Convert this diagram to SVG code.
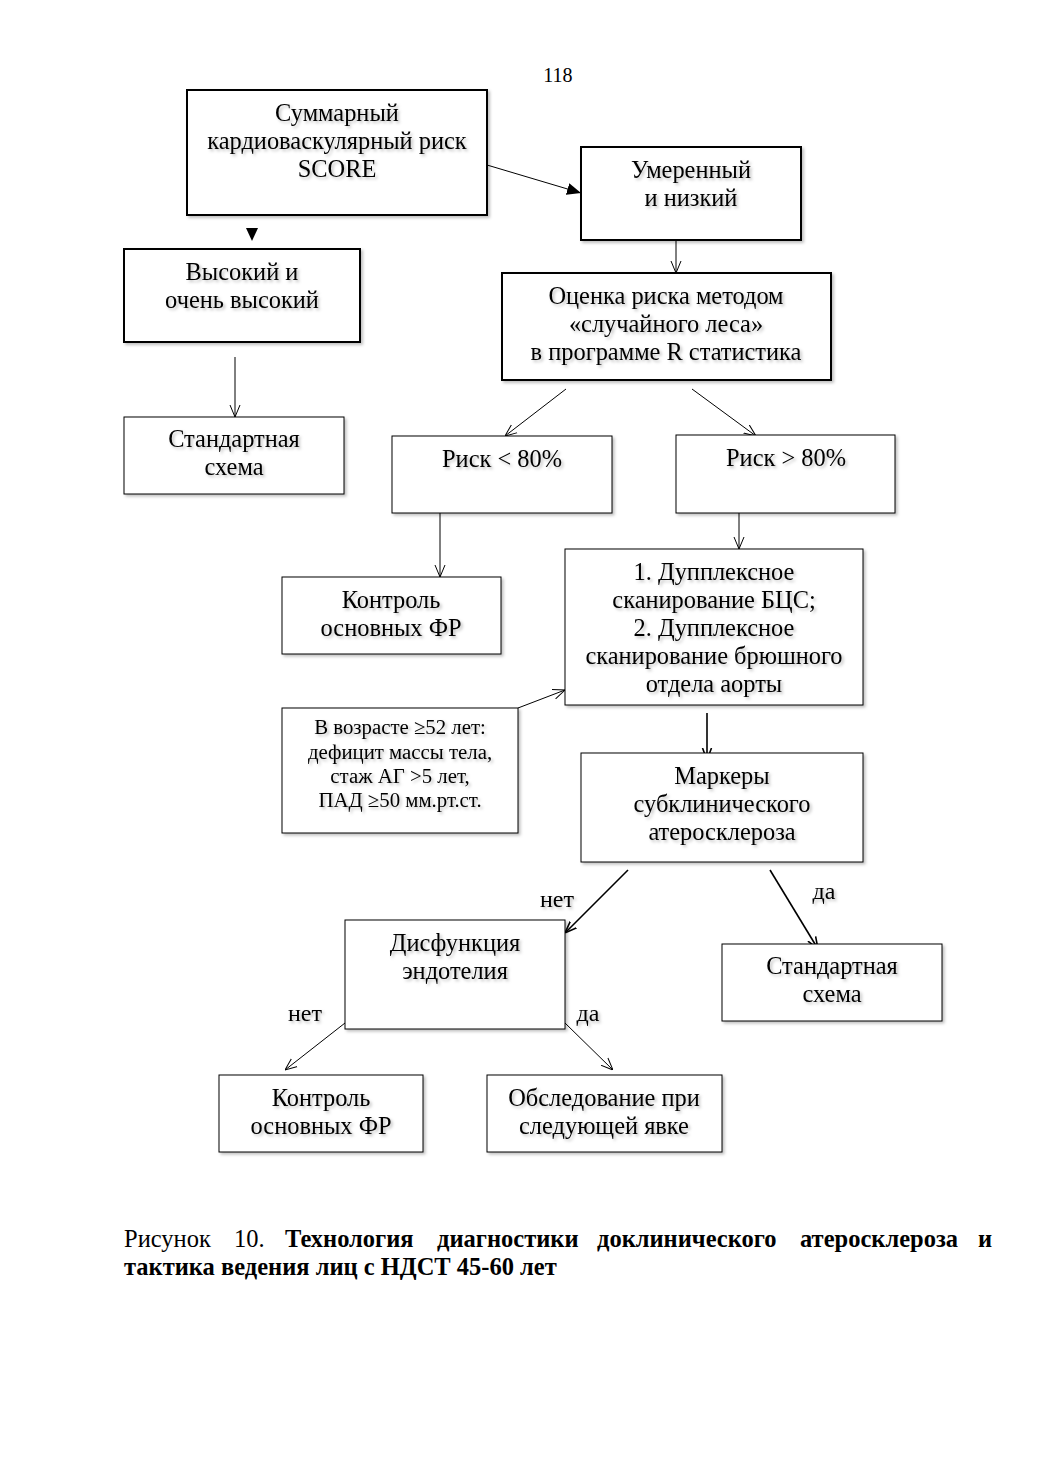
<svg xmlns="http://www.w3.org/2000/svg" width="1040" height="1473" viewBox="0 0 1040 1473">
<defs>
<filter id="sh" x="-10%" y="-10%" width="130%" height="140%">
<feDropShadow dx="2" dy="2" stdDeviation="1.5" flood-color="#000" flood-opacity="0.25"/>
</filter>
<marker id="open" viewBox="0 0 12 12" refX="12" refY="6" markerWidth="12" markerHeight="12" markerUnits="userSpaceOnUse" orient="auto">
<path d="M0,1 L12,6 L0,11" fill="none" stroke="#000" stroke-width="1"/>
</marker>
<marker id="openb" viewBox="0 0 12 12" refX="12" refY="6" markerWidth="12" markerHeight="12" markerUnits="userSpaceOnUse" orient="auto">
<path d="M0,1.5 L12,6 L0,10.5" fill="none" stroke="#000" stroke-width="1.6"/>
</marker>
<marker id="fill" viewBox="0 0 14 12" refX="14" refY="6" markerWidth="14" markerHeight="12" markerUnits="userSpaceOnUse" orient="auto">
<path d="M0,0 L14,6 L0,12 Z" fill="#000"/>
</marker>
</defs>
<style>
text{font-family:"Liberation Serif","Times New Roman",serif;fill:#000}
.t{font-size:24.4px;text-anchor:middle}
.s{font-size:20.8px;text-anchor:middle}
.l{font-size:24px;text-anchor:middle}
.c{font-size:24.5px}
.b{font-weight:bold}
.box{fill:#fff;stroke:#000;stroke-width:1;filter:url(#sh)}
.bx{fill:#fff;stroke:#000;stroke-width:2;filter:url(#sh)}
.ln{stroke:#000;stroke-width:1;fill:none}
.lb{stroke:#000;stroke-width:1.6;fill:none}
.tx{filter:url(#sh)}
</style>
<rect width="1040" height="1473" fill="#fff"/>
<text x="558" y="82" style="font-size:20px;text-anchor:middle">118</text>

<g id="connectors">
<line class="ln" x1="487" y1="165" x2="581" y2="193" marker-end="url(#fill)"/>
<path d="M246,228 L258,228 L252,241 Z" fill="#000"/>
<line class="ln" x1="676" y1="240" x2="676" y2="273" marker-end="url(#open)"/>
<line class="ln" x1="235" y1="357" x2="235" y2="417" marker-end="url(#open)"/>
<line class="ln" x1="566" y1="389" x2="505" y2="436" marker-end="url(#open)"/>
<line class="ln" x1="692" y1="389" x2="756" y2="436" marker-end="url(#open)"/>
<line class="ln" x1="440" y1="513" x2="440" y2="577" marker-end="url(#open)"/>
<line class="ln" x1="739" y1="513" x2="739" y2="549" marker-end="url(#open)"/>
<line class="ln" x1="518" y1="708" x2="565" y2="690" marker-end="url(#open)"/>
<line class="lb" x1="707" y1="713" x2="707" y2="760" marker-end="url(#openb)"/>
<line class="lb" x1="628" y1="870" x2="565" y2="933" marker-end="url(#openb)"/>
<line class="lb" x1="770" y1="870" x2="818" y2="949" marker-end="url(#openb)"/>
<line class="ln" x1="345" y1="1023" x2="285" y2="1070" marker-end="url(#open)"/>
<line class="ln" x1="565" y1="1023" x2="613" y2="1070" marker-end="url(#open)"/>
<g class="tx">
<text class="l" x="557" y="907">нет</text>
<text class="l" x="824" y="899">да</text>
<text class="l" x="305" y="1021">нет</text>
<text class="l" x="588" y="1021">да</text>
</g>
</g>

<g id="n-score"><rect class="bx" x="187" y="90" width="300" height="125"/>
<g class="tx"><text class="t" x="337" y="121">Суммарный</text><text class="t" x="337" y="149">кардиоваскулярный риск</text><text class="t" x="337" y="177">SCORE</text></g></g>

<g id="n-moderate"><rect class="bx" x="581" y="147" width="220" height="93"/>
<g class="tx"><text class="t" x="691" y="178">Умеренный</text><text class="t" x="691" y="206">и низкий</text></g></g>

<g id="n-high"><rect class="bx" x="124" y="249" width="236" height="93"/>
<g class="tx"><text class="t" x="242" y="280">Высокий и</text><text class="t" x="242" y="308">очень высокий</text></g></g>

<g id="n-forest"><rect class="bx" x="502" y="273" width="329" height="107"/>
<g class="tx"><text class="t" x="666" y="304">Оценка риска методом</text><text class="t" x="666" y="332">«случайного леса»</text><text class="t" x="666" y="360">в программе R статистика</text></g></g>

<g id="n-std1"><rect class="box" x="124" y="417" width="220" height="77"/>
<g class="tx"><text class="t" x="234" y="447">Стандартная</text><text class="t" x="234" y="475">схема</text></g></g>

<g id="n-risk-lo"><rect class="box" x="392" y="436" width="220" height="77"/>
<g class="tx"><text class="t" x="502" y="467">Риск &lt; 80%</text></g></g>

<g id="n-risk-hi"><rect class="box" x="676" y="435" width="219" height="78"/>
<g class="tx"><text class="t" x="786" y="466">Риск &gt; 80%</text></g></g>

<g id="n-ctrl1"><rect class="box" x="282" y="577" width="219" height="77"/>
<g class="tx"><text class="t" x="391" y="608">Контроль</text><text class="t" x="391" y="636">основных ФР</text></g></g>

<g id="n-duplex"><rect class="box" x="565" y="549" width="298" height="156"/>
<g class="tx"><text class="t" x="714" y="580">1. Дупплексное</text><text class="t" x="714" y="608">сканирование БЦС;</text><text class="t" x="714" y="636">2. Дупплексное</text><text class="t" x="714" y="664">сканирование брюшного</text><text class="t" x="714" y="692">отдела аорты</text></g></g>

<g id="n-age"><rect class="box" x="282" y="708" width="236" height="125"/>
<g class="tx"><text class="s" x="400" y="734">В возрасте ≥52 лет:</text><text class="s" x="400" y="759">дефицит массы тела,</text><text class="s" x="400" y="783">стаж АГ &gt;5 лет,</text><text class="s" x="400" y="807">ПАД ≥50 мм.рт.ст.</text></g></g>

<g id="n-markers"><rect class="box" x="581" y="753" width="282" height="109"/>
<g class="tx"><text class="t" x="722" y="784">Маркеры</text><text class="t" x="722" y="812">субклинического</text><text class="t" x="722" y="840">атеросклероза</text></g></g>

<g id="n-dysf"><rect class="box" x="345" y="920" width="220" height="109"/>
<g class="tx"><text class="t" x="455" y="951">Дисфункция</text><text class="t" x="455" y="979">эндотелия</text></g></g>

<g id="n-std2"><rect class="box" x="722" y="944" width="220" height="77"/>
<g class="tx"><text class="t" x="832" y="974">Стандартная</text><text class="t" x="832" y="1002">схема</text></g></g>

<g id="n-ctrl2"><rect class="box" x="219" y="1075" width="204" height="77"/>
<g class="tx"><text class="t" x="321" y="1106">Контроль</text><text class="t" x="321" y="1134">основных ФР</text></g></g>

<g id="n-exam"><rect class="box" x="487" y="1075" width="235" height="77"/>
<g class="tx"><text class="t" x="604" y="1106">Обследование при</text><text class="t" x="604" y="1134">следующей явке</text></g></g>

<g id="caption">
<text class="c" x="124" y="1247">Рисунок</text>
<text class="c" x="234" y="1247">10.</text>
<text class="c b" x="285" y="1247">Технология</text>
<text class="c b" x="437" y="1247">диагностики</text>
<text class="c b" x="597" y="1247">доклинического</text>
<text class="c b" x="800" y="1247">атеросклероза</text>
<text class="c b" x="992" y="1247" text-anchor="end">и</text>
<text class="c b" x="124" y="1275">тактика ведения лиц с НДСТ 45-60 лет</text>
</g>
</svg>
